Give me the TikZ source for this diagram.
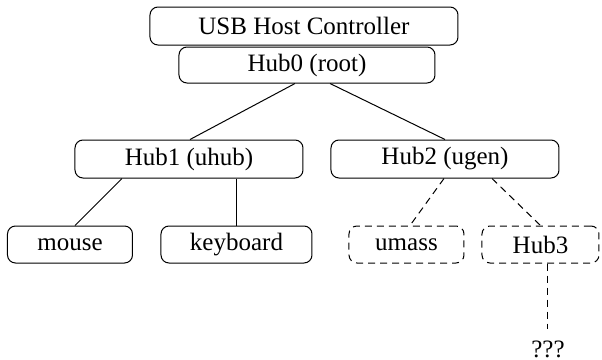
\documentclass[tikz,border=0pt]{standalone}
\usepackage{fontspec}
\setmainfont{Liberation Serif}
\usepackage{tikz}
\usetikzlibrary{calc}

\begin{document}
\begin{tikzpicture}[x=0.5pt, y=-0.5pt, line width=0.5pt,
box/.style={draw, rounded corners=4pt, inner sep=0pt, minimum height=19pt, font=\fontsize{12.5}{15}\selectfont},
dbox/.style={box, dash pattern=on 3.5pt off 2.5pt},
dline/.style={dash pattern=on 3.5pt off 2.5pt}]
\useasboundingbox (0,0) rectangle (602,360);

\node [box, minimum width=154pt] (host) at (304,26) {USB Host Controller};
\node [box, minimum width=128pt, minimum height=18pt] (hub0) at (307,65) {Hub0 (root)};

\node [box, minimum width=114pt] (hub1) at (189,159) {Hub1 (uhub)};
\node [box, minimum width=114pt] (hub2) at (445,159) {Hub2 (ugen)};

\node [box, minimum width=62.5pt, minimum height=18.5pt] (mouse) at (70,244.5) {mouse};
\node [box, minimum width=75.5pt, minimum height=18.5pt] (kbd) at (236.5,244.5) {keyboard};
\node [dbox, minimum width=57.5pt, minimum height=18.5pt] (umass) at (406.5,244.5) {umass};
\node [dbox, minimum width=58.5pt, minimum height=18.5pt] (hub3) at (540.5,244.5) {Hub3};

\node [anchor=base, inner sep=0pt, font=\fontsize{12.5}{15}\selectfont] (unk) at (548,357) {???};

\draw ($(hub0.south)+(-12,0)$) -- ($(hub1.north)+(1,0)$);
\draw ($(hub0.south)+(23,0)$) -- (hub2.north);

\draw ($(hub1.south)+(-67,0)$) -- ($(mouse.north)+(5,0)$);
\draw (kbd.north |- hub1.south) -- (kbd.north);

\draw [dline] ($(hub2.south)+(-1,0)$) -- ($(umass.north)+(3.5,0)$);
\draw [dline] ($(hub2.south)+(47,0)$) -- (hub3.north);
\draw [dline, shorten >=5.5pt] (unk.north |- hub3.south) -- (unk.north);
\end{tikzpicture}
\end{document}
